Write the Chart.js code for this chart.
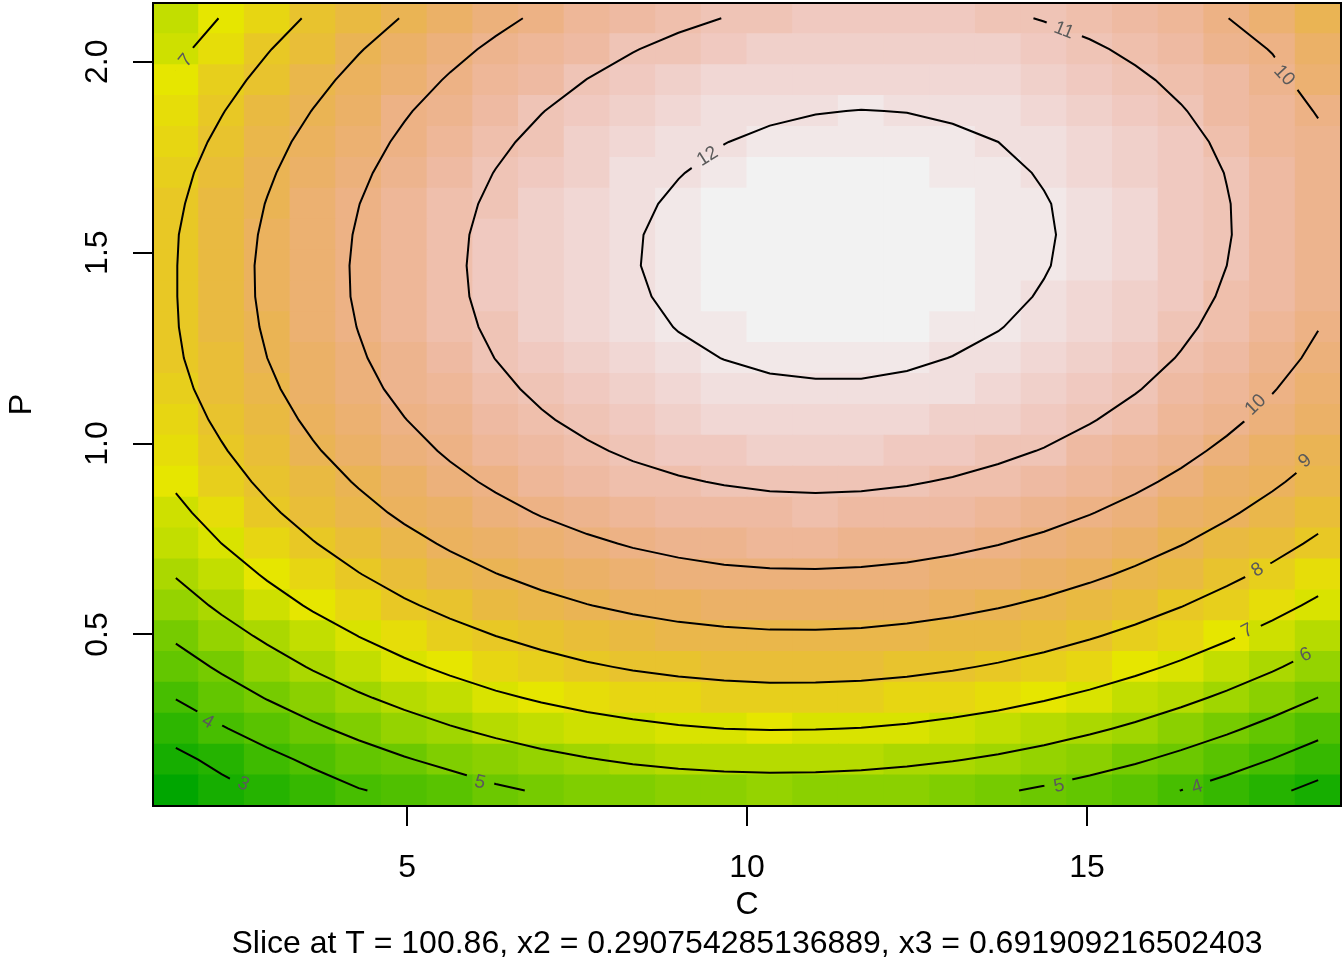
<!DOCTYPE html>
<html>
<head>
<meta charset="utf-8">
<script src="https://cdn.jsdelivr.net/npm/chart.js@4.4.1/dist/chart.umd.min.js"></script>
<style>
html, body { margin: 0; padding: 0; background: #fff; }
canvas { display: block; }
</style>
</head>
<body>
<canvas id="myChart" width="1344" height="960"></canvas>
<script>
// grid of the slice
const cValues = [1.6, 2.272, 2.944, 3.616, 4.288, 4.96, 5.632, 6.304, 6.976, 7.648, 8.32, 8.992, 9.664,
  10.336, 11.008, 11.68, 12.352, 13.024, 13.696, 14.368, 15.04, 15.712, 16.384, 17.056, 17.728, 18.4];
const pValues = [0.091, 0.172, 0.253, 0.334, 0.415, 0.496, 0.576, 0.657, 0.738, 0.819, 0.9, 0.981, 1.062,
  1.143, 1.224, 1.305, 1.385, 1.466, 1.547, 1.628, 1.709, 1.79, 1.871, 1.952, 2.033, 2.114];

// predicted response, one row per P value (bottom to top), one value per C value
const zValues = [
  [2.04,2.70,3.15,3.55,3.95,4.21,4.52,4.86,5.08,5.21,5.36,5.47,5.54,5.57,5.55,5.50,5.41,5.27,5.10,4.88,4.62,4.33,3.99,3.61,3.19,2.73],
  [2.75,3.26,3.74,4.18,4.58,4.93,5.25,5.52,5.76,5.95,6.11,6.22,6.29,6.32,6.31,6.26,6.17,6.04,5.87,5.66,5.40,5.11,4.77,4.40,3.98,3.53],
  [3.41,3.93,4.41,4.85,5.25,5.61,5.93,6.21,6.45,6.65,6.80,6.92,7.00,7.03,7.02,6.98,6.89,6.76,6.60,6.39,6.14,5.85,5.52,5.14,4.73,4.28],
  [4.03,4.55,5.04,5.48,5.89,6.25,6.57,6.86,7.10,7.30,7.46,7.58,7.66,7.70,7.69,7.65,7.57,7.44,7.28,7.07,6.83,6.54,6.21,5.85,5.44,4.99],
  [4.60,5.13,5.62,6.07,6.48,6.84,7.17,7.46,7.70,7.91,8.07,8.19,8.27,8.32,8.32,8.28,8.20,8.08,7.92,7.72,7.47,7.19,6.87,6.50,6.10,5.65],
  [5.13,5.66,6.15,6.60,7.01,7.38,7.71,8.00,8.25,8.46,8.63,8.76,8.84,8.89,8.89,8.86,8.78,8.66,8.50,8.31,8.07,7.79,7.47,7.11,6.71,6.26],
  [5.61,6.15,6.65,7.10,7.51,7.89,8.22,8.52,8.77,8.98,9.15,9.28,9.37,9.42,9.43,9.40,9.32,9.21,9.05,8.86,8.62,8.35,8.03,7.67,7.28,6.84],
  [6.05,6.59,7.09,7.55,7.97,8.35,8.69,8.98,9.24,9.45,9.63,9.76,9.86,9.91,9.92,9.89,9.82,9.71,9.56,9.37,9.14,8.87,8.55,8.20,7.81,7.37],
  [6.45,7.00,7.50,7.96,8.38,8.76,9.10,9.41,9.66,9.88,10.06,10.20,10.30,10.35,10.37,10.34,10.28,10.17,10.02,9.84,9.61,9.34,9.03,8.68,8.29,7.86],
  [6.81,7.35,7.86,8.33,8.75,9.14,9.48,9.78,10.05,10.27,10.45,10.59,10.69,10.75,10.77,10.75,10.69,10.58,10.44,10.26,10.03,9.77,9.46,9.11,8.73,8.30],
  [7.11,7.66,8.18,8.64,9.07,9.46,9.81,10.12,10.38,10.61,10.80,10.94,11.04,11.11,11.13,11.11,11.05,10.95,10.81,10.63,10.41,10.15,9.85,9.51,9.12,8.70],
  [7.38,7.93,8.45,8.92,9.35,9.74,10.10,10.41,10.68,10.91,11.10,11.24,11.35,11.42,11.44,11.43,11.37,11.28,11.14,10.97,10.75,10.49,10.19,9.85,9.47,9.05],
  [7.60,8.16,8.67,9.15,9.59,9.98,10.34,10.65,10.93,11.16,11.35,11.50,11.62,11.69,11.72,11.71,11.65,11.56,11.43,11.26,11.04,10.79,10.49,10.16,9.78,9.36],
  [7.78,8.34,8.86,9.34,9.78,10.18,10.54,10.85,11.13,11.37,11.56,11.72,11.83,11.91,11.94,11.94,11.89,11.80,11.67,11.50,11.29,11.04,10.75,10.41,10.04,9.63],
  [7.90,8.47,9.00,9.48,9.92,10.33,10.69,11.01,11.29,11.53,11.73,11.89,12.01,12.09,12.12,12.12,12.08,11.99,11.87,11.70,11.49,11.25,10.96,10.63,10.26,9.85],
  [7.96,8.56,9.09,9.58,10.02,10.43,10.80,11.12,11.41,11.65,11.85,12.02,12.14,12.22,12.26,12.26,12.22,12.14,12.02,11.85,11.65,11.41,11.12,10.80,10.43,10.02],
  [7.98,8.61,9.14,9.63,10.08,10.49,10.86,11.19,11.48,11.72,11.93,12.10,12.22,12.31,12.35,12.36,12.32,12.24,12.12,11.96,11.76,11.52,11.24,10.92,10.56,10.15],
  [7.98,8.61,9.15,9.64,10.09,10.51,10.88,11.21,11.51,11.76,11.97,12.14,12.26,12.35,12.40,12.41,12.37,12.30,12.19,12.03,11.83,11.60,11.32,11.00,10.64,10.24],
  [7.96,8.57,9.11,9.61,10.06,10.48,10.86,11.19,11.49,11.74,11.96,12.13,12.26,12.36,12.41,12.42,12.39,12.32,12.21,12.05,11.86,11.63,11.35,11.04,10.68,10.29],
  [7.88,8.48,9.03,9.53,9.99,10.41,10.79,11.13,11.43,11.69,11.90,12.08,12.22,12.31,12.37,12.38,12.36,12.29,12.18,12.03,11.84,11.61,11.34,11.03,10.68,10.29],
  [7.77,8.35,8.90,9.40,9.87,10.29,10.68,11.02,11.32,11.58,11.80,11.98,12.12,12.22,12.28,12.30,12.28,12.21,12.11,11.96,11.78,11.55,11.29,10.98,10.63,10.24],
  [7.59,8.18,8.73,9.24,9.71,10.13,10.52,10.87,11.17,11.44,11.66,11.85,11.99,12.09,12.16,12.18,12.16,12.10,12.00,11.86,11.67,11.45,11.19,10.88,10.54,10.16],
  [7.37,7.96,8.51,9.02,9.50,9.93,10.32,10.67,10.98,11.25,11.48,11.66,11.81,11.92,11.98,12.01,11.99,11.93,11.84,11.70,11.52,11.30,11.04,10.74,10.40,9.95],
  [7.10,7.70,8.25,8.77,9.24,9.68,10.07,10.43,10.74,11.01,11.24,11.44,11.59,11.70,11.76,11.79,11.78,11.73,11.64,11.50,11.33,11.11,10.86,10.56,10.22,9.66],
  [6.79,7.39,7.95,8.47,8.95,9.39,9.79,10.14,10.46,10.74,10.97,11.17,11.32,11.43,11.51,11.54,11.53,11.48,11.39,11.26,11.09,10.88,10.63,10.33,9.96,9.34],
  [6.44,7.04,7.60,8.13,8.61,9.05,9.45,9.81,10.13,10.41,10.65,10.85,11.01,11.13,11.20,11.24,11.23,11.19,11.10,10.97,10.81,10.60,10.35,10.02,9.52,9.05]
];

const contourLevels = [3, 4, 5, 6, 7, 8, 9, 10, 11, 12];
const xTicks = [5, 10, 15];
const yTicks = [0.5, 1.0, 1.5, 2.0];
const xTitle = 'C';
const yTitle = 'P';
const subTitle = 'Slice at T = 100.86, x2 = 0.290754285136889, x3 = 0.691909216502403';

// contour labels as placed in the original: level, C, P, text angle (deg)
const labelLevel = [7, 11, 10, 12, 10, 9, 8, 7, 6, 5, 4, 4, 3, 5];
const labelC = [1.75, 14.66, 17.90, 9.42, 17.48, 18.21, 17.51, 17.36, 18.22, 14.59, 16.62, 2.07, 2.59, 6.07];
const labelP = [2.003, 2.082, 1.964, 1.752, 1.101, 0.954, 0.669, 0.509, 0.446, 0.103, 0.100, 0.271, 0.108, 0.112];
const labelAngle = [-51, 22, 47, -32, -44, -40, -31, -27, -25, -12, -18, 30, 25, 14];

const fontFamily = "'Liberation Sans', Arial, Helvetica, sans-serif";
Chart.defaults.font.family = fontFamily;

// R terrain.colors(n)
function hsvToRgb(h, s, v) {
  const i = Math.floor(h * 6), f = h * 6 - i;
  const p = v * (1 - s), q = v * (1 - f * s), t = v * (1 - (1 - f) * s);
  let r, g, b;
  switch (((i % 6) + 6) % 6) {
    case 0: r = v; g = t; b = p; break;
    case 1: r = q; g = v; b = p; break;
    case 2: r = p; g = v; b = t; break;
    case 3: r = p; g = q; b = v; break;
    case 4: r = t; g = p; b = v; break;
    default: r = v; g = p; b = q;
  }
  return 'rgb(' + Math.round(r * 255) + ',' + Math.round(g * 255) + ',' + Math.round(b * 255) + ')';
}
function terrainColors(n) {
  const k = Math.floor(n / 2), cols = [];
  for (let i = 0; i < k; i++) {
    const f = k > 1 ? i / (k - 1) : 0;
    cols.push(hsvToRgb(4 / 12 - 2 / 12 * f, 1, 0.65 + 0.25 * f));
  }
  const m = n - k;
  for (let i = 1; i <= m; i++) {
    const f = i / m;
    cols.push(hsvToRgb(2 / 12 * (1 - f), 1 - f, 0.9 + 0.05 * f));
  }
  return cols;
}

const palette = terrainColors(50);
const zAll = zValues.flat();
const zMin = Math.min(...zAll), zMax = Math.max(...zAll);
function cellColor(z) {
  let k = Math.floor((z - zMin) / (zMax - zMin) * palette.length);
  return palette[Math.max(0, Math.min(palette.length - 1, k))];
}

// one floating-bar dataset per row of cells
const heatSets = pValues.map((p, j) => {
  const lo = j === 0 ? p - (pValues[1] - p) / 2 : (pValues[j - 1] + p) / 2;
  const hi = j === pValues.length - 1 ? p + (p - pValues[j - 1]) / 2 : (pValues[j + 1] + p) / 2;
  return {
    type: 'bar',
    data: cValues.map(c => ({ x: c, y: [lo, hi] })),
    backgroundColor: zValues[j].map(cellColor),
    borderWidth: 0,
    grouped: false,
    barPercentage: 1,
    categoryPercentage: 1,
    inflateAmount: 0.5,
    order: 2
  };
});

// contour lines from the grid (marching squares, as contour() does)
function contourLines(level) {
  const pts = {}, segs = [];
  const above = z => z >= level;
  function edge(key, za, zb, xa, ya, xb, yb) {
    if (!(key in pts)) {
      const t = (level - za) / (zb - za);
      pts[key] = { x: xa + t * (xb - xa), y: ya + t * (yb - ya) };
    }
    return key;
  }
  for (let j = 0; j < pValues.length - 1; j++) {
    for (let i = 0; i < cValues.length - 1; i++) {
      const z0 = zValues[j][i], z1 = zValues[j][i + 1], z2 = zValues[j + 1][i + 1], z3 = zValues[j + 1][i];
      const x0 = cValues[i], x1 = cValues[i + 1], y0 = pValues[j], y1 = pValues[j + 1];
      const b = above(z0) !== above(z1) ? edge('h' + i + '_' + j, z0, z1, x0, y0, x1, y0) : null;
      const r = above(z1) !== above(z2) ? edge('v' + (i + 1) + '_' + j, z1, z2, x1, y0, x1, y1) : null;
      const t = above(z3) !== above(z2) ? edge('h' + i + '_' + (j + 1), z3, z2, x0, y1, x1, y1) : null;
      const l = above(z0) !== above(z3) ? edge('v' + i + '_' + j, z0, z3, x0, y0, x0, y1) : null;
      const cross = [b, r, t, l].filter(e => e !== null);
      if (cross.length === 2) {
        segs.push(cross);
      } else if (cross.length === 4) {
        const mid = (z0 + z1 + z2 + z3) / 4;
        if (above(mid) === above(z0)) { segs.push([b, r]); segs.push([t, l]); }
        else { segs.push([b, l]); segs.push([r, t]); }
      }
    }
  }
  const adj = {};
  segs.forEach((s, k) => {
    (adj[s[0]] = adj[s[0]] || []).push(k);
    (adj[s[1]] = adj[s[1]] || []).push(k);
  });
  const used = segs.map(() => false);
  function walk(start) {
    const keys = [start];
    let cur = start;
    for (;;) {
      const next = adj[cur].find(k => !used[k]);
      if (next === undefined) break;
      used[next] = true;
      cur = segs[next][0] === cur ? segs[next][1] : segs[next][0];
      keys.push(cur);
    }
    return keys.map(k => pts[k]);
  }
  const lines = [];
  Object.keys(adj).forEach(key => {
    if (adj[key].length === 1 && !used[adj[key][0]]) lines.push(walk(key));
  });
  segs.forEach((s, k) => { if (!used[k]) lines.push(walk(s[0])); });
  return lines;
}

const lineSets = [];
contourLevels.forEach(level => {
  contourLines(level).forEach(line => {
    lineSets.push({
      type: 'line',
      data: line,
      isContour: true,
      borderColor: '#000',
      borderWidth: 2,
      pointRadius: 0,
      fill: false,
      tension: 0,
      order: 0
    });
  });
});

const labelFont = '19px ' + fontFamily;

function labelBoxes(chart) {
  const ctx = chart.ctx, xs = chart.scales.x, ys = chart.scales.y;
  ctx.save();
  ctx.font = labelFont;
  const boxes = labelLevel.map((lev, k) => {
    const cx = xs.getPixelForValue(labelC[k]);
    const cy = ys.getPixelForValue(labelP[k]);
    const a = labelAngle[k] * Math.PI / 180;
    const hw = ctx.measureText(String(lev)).width / 2 + 9;
    const hh = 8;
    const ux = Math.cos(a), uy = Math.sin(a), vx = -uy, vy = ux;
    return {
      cx, cy, a, text: String(lev),
      corners: [
        [cx - ux * hw - vx * hh, cy - uy * hw - vy * hh],
        [cx + ux * hw - vx * hh, cy + uy * hw - vy * hh],
        [cx + ux * hw + vx * hh, cy + uy * hw + vy * hh],
        [cx - ux * hw + vx * hh, cy - uy * hw + vy * hh]
      ]
    };
  });
  ctx.restore();
  return boxes;
}

const rPlotPlugin = {
  id: 'rPlot',
  beforeDatasetDraw(chart, args) {
    if (!chart.data.datasets[args.index].isContour) return;
    const ctx = chart.ctx;
    ctx.save();
    ctx.beginPath();
    ctx.rect(0, 0, chart.width, chart.height);
    labelBoxes(chart).forEach(b => {
      ctx.moveTo(b.corners[0][0], b.corners[0][1]);
      for (let k = 1; k < 4; k++) ctx.lineTo(b.corners[k][0], b.corners[k][1]);
      ctx.closePath();
    });
    ctx.clip('evenodd');
  },
  afterDatasetDraw(chart, args) {
    if (chart.data.datasets[args.index].isContour) chart.ctx.restore();
  },
  afterDatasetsDraw(chart) {
    const ctx = chart.ctx, area = chart.chartArea;
    ctx.save();
    // contour labels
    ctx.font = labelFont;
    ctx.fillStyle = '#5a5a5a';
    ctx.textAlign = 'center';
    ctx.textBaseline = 'middle';
    labelBoxes(chart).forEach(b => {
      ctx.save();
      ctx.translate(b.cx, b.cy);
      ctx.rotate(b.a);
      ctx.fillText(b.text, 0, 0);
      ctx.restore();
    });
    // box round the plot
    ctx.strokeStyle = '#000';
    ctx.lineWidth = 2;
    ctx.strokeRect(area.left, area.top, area.right - area.left, area.bottom - area.top);
    ctx.restore();
  },
  afterDraw(chart) {
    // y tick labels, parallel to the axis as in R
    const ctx = chart.ctx, ys = chart.scales.y;
    ctx.save();
    ctx.font = '32px ' + fontFamily;
    ctx.fillStyle = '#000';
    ctx.textAlign = 'center';
    ctx.textBaseline = 'middle';
    yTicks.forEach(v => {
      ctx.save();
      ctx.translate(98, ys.getPixelForValue(v));
      ctx.rotate(-Math.PI / 2);
      ctx.fillText(v.toFixed(1), 0, 0);
      ctx.restore();
    });
    ctx.restore();
  }
};

const ctx = document.getElementById('myChart');
new Chart(ctx, {
  type: 'bar',
  data: { datasets: heatSets.concat(lineSets) },
  options: {
    responsive: false,
    devicePixelRatio: 1,
    animation: false,
    events: [],
    layout: { padding: { left: 0, right: 3, top: 3, bottom: 0 } },
    plugins: { legend: { display: false }, tooltip: { enabled: false } },
    scales: {
      x: {
        type: 'linear',
        position: 'bottom',
        min: 1.264,
        max: 18.736,
        offset: false,
        afterBuildTicks: s => { s.ticks = xTicks.map(v => ({ value: v })); },
        afterFit: s => { s.height = 154; },
        grid: { display: true, offset: false, drawOnChartArea: false, drawTicks: true, tickLength: 20,
                lineWidth: 2, tickWidth: 2, color: '#000', tickColor: '#000' },
        border: { display: false },
        ticks: { color: '#000', font: { size: 32 }, padding: 23, maxRotation: 0, autoSkip: false,
                 callback: v => String(v) },
        title: { display: true, text: [xTitle, subTitle], color: '#000', font: { size: 32 },
                 padding: { top: 0, bottom: -3 } }
      },
      y: {
        type: 'linear',
        position: 'left',
        min: 0.0506,
        max: 2.154,
        afterBuildTicks: s => { s.ticks = yTicks.map(v => ({ value: v })); },
        afterFit: s => { s.width = 153; },
        grid: { display: true, drawOnChartArea: false, drawTicks: true, tickLength: 20,
                lineWidth: 2, tickWidth: 2, color: '#000', tickColor: '#000' },
        border: { display: false },
        ticks: { display: false },
        title: { display: true, text: yTitle, color: '#000', font: { size: 32 },
                 padding: { top: 3, bottom: 0 } }
      }
    }
  },
  plugins: [rPlotPlugin]
});
</script>
</body>
</html>
